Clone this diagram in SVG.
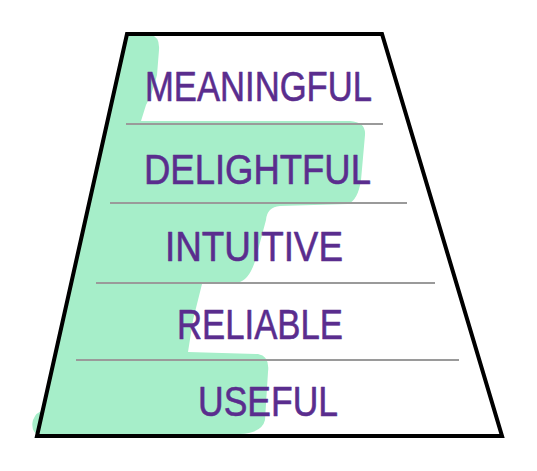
<svg xmlns="http://www.w3.org/2000/svg" width="537" height="471" viewBox="0 0 537 471">
<style>
.lbl{font-family:"Liberation Sans","Open Sans",sans-serif;font-size:42px;fill:#5a2d8e;stroke:#5a2d8e;stroke-width:0.6;stroke-linejoin:round}
.sep{stroke:#9a9a9a;stroke-width:2}
</style>
<rect width="537" height="471" fill="#ffffff"/>
<g id="highlight">
<path d="M127 35 L150 35 Q160 36 159 50 L157 75 Q152 95 146 105 L141 121 L350 121 Q366 122 365 135 L361 180 Q358 200 348 204 L280 206 Q267 207 266 220 L258 250 Q252 278 240 282 L202 284 L193 320 L188 352 L258 354 Q270 356 268 372 L265 420 Q262 433 240 434 L40 436 Q30 432 33 420 Q36 412 44 410 Z" fill="#a6eec9"/>
</g>
<g id="separators">
<line class="sep" x1="126" y1="124" x2="383" y2="124"/>
<line class="sep" x1="110" y1="203" x2="407" y2="203"/>
<line class="sep" x1="96" y1="283" x2="435" y2="283"/>
<line class="sep" x1="76" y1="360" x2="459" y2="360"/>
</g>
<g id="pyramid">
<polygon points="127,34 382,34 502,436 37,436" fill="none" stroke="#000" stroke-width="4"/>
</g>
<g id="meaningful"><text class="lbl" x="145" y="101" textLength="227" lengthAdjust="spacingAndGlyphs">MEANINGFUL</text></g>
<g id="delightful"><text class="lbl" x="144" y="184" textLength="227" lengthAdjust="spacingAndGlyphs">DELIGHTFUL</text></g>
<g id="intuitive"><text class="lbl" x="165" y="261" textLength="178" lengthAdjust="spacingAndGlyphs">INTUITIVE</text></g>
<g id="reliable"><text class="lbl" x="177" y="339" textLength="166" lengthAdjust="spacingAndGlyphs">RELIABLE</text></g>
<g id="useful"><text class="lbl" x="198" y="416" textLength="140" lengthAdjust="spacingAndGlyphs">USEFUL</text></g>
</svg>
